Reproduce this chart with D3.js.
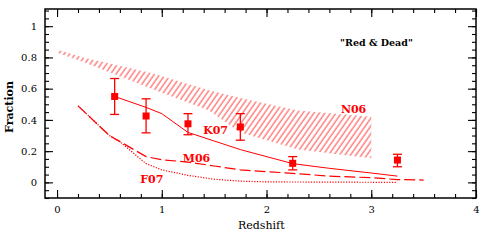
<!DOCTYPE html>
<html>
<head>
<meta charset="utf-8">
<script src="https://cdn.jsdelivr.net/npm/d3@7"></script>
<style>
  body { margin: 0; background: #fff; }
  text { font-family: "DejaVu Serif", serif; }
</style>
</head>
<body>
<div id="wrapper"></div>
<script>
// observed points (squares with error bars)
const pointZ = [0.55, 0.85, 1.25, 1.75, 2.25, 3.25]
const pointFrac = [0.55, 0.425, 0.375, 0.355, 0.122, 0.143]
const pointHi = [0.665, 0.535, 0.44, 0.44, 0.165, 0.18]
const pointLo = [0.435, 0.317, 0.305, 0.27, 0.08, 0.10]

// K07 model (solid)
const k07Z = [0.55, 0.85, 1.0, 1.25, 1.75, 2.25, 2.6, 3.0, 3.25]
const k07Frac = [0.55, 0.48, 0.44, 0.32, 0.21, 0.12, 0.09, 0.06, 0.04]

// M06 model (long dash)
const m06Z = [0.2, 0.5, 0.85, 1.0, 1.25, 1.5, 1.75, 2.25, 2.6, 3.0, 3.25, 3.5]
const m06Frac = [0.49, 0.30, 0.165, 0.145, 0.13, 0.105, 0.08, 0.058, 0.04, 0.03, 0.018, 0.015]

// F07 model (dotted)
const f07Z = [0.2, 0.5, 0.6, 0.85, 1.0, 1.25, 1.5, 1.75, 2.0, 2.5, 3.25]
const f07Frac = [0.49, 0.30, 0.26, 0.12, 0.08, 0.045, 0.02, 0.008, 0.003, 0.002, 0.0]

// N06 band (hatched)
const n06Z = [0, 0.25, 0.9, 1.45, 1.75, 2.3, 3.0]
const n06Top = [0.85, 0.80, 0.70, 0.59, 0.54, 0.46, 0.42]
const n06Bottom = [0.83, 0.77, 0.60, 0.46, 0.32, 0.21, 0.155]

const xMajor = [0, 1, 2, 3, 4]
const yMajor = [0, 0.2, 0.4, 0.6, 0.8, 1]

let dimensions = {
    width: 491,
    height: 243,
    margin: { top: 9, right: 15, bottom: 45, left: 45 },
}
dimensions.boundedWidth = dimensions.width - dimensions.margin.left - dimensions.margin.right
dimensions.boundedHeight = dimensions.height - dimensions.margin.top - dimensions.margin.bottom

const wrapper = d3.select("#wrapper")
    .append("svg")
    .attr("width", dimensions.width)
    .attr("height", dimensions.height)

const bounds = wrapper.append("g")
    .attr("transform", `translate(${dimensions.margin.left},${dimensions.margin.top})`)

const xScale = d3.scaleLinear()
    .domain([-0.115, 4])
    .range([0, dimensions.boundedWidth])

const yScale = d3.scaleLinear()
    .domain([-0.1, 1.11])
    .range([dimensions.boundedHeight, 0])

const red = "#ff0000"

// hatch pattern for the N06 band
const defs = wrapper.append("defs")
defs.append("pattern")
    .attr("id", "hatch")
    .attr("patternUnits", "userSpaceOnUse")
    .attr("width", 4.5)
    .attr("height", 4.5)
    .attr("patternTransform", "rotate(35)")
    .append("line")
    .attr("x1", 1).attr("y1", 0)
    .attr("x2", 1).attr("y2", 4.5)
    .attr("stroke", "#ff5555")
    .attr("stroke-width", 1.1)

const band = d3.area()
    .x((d, i) => xScale(n06Z[i]))
    .y0((d, i) => yScale(n06Bottom[i]))
    .y1((d, i) => yScale(n06Top[i]))

bounds.append("path")
    .attr("d", band(n06Z))
    .attr("fill", "url(#hatch)")

const lineFor = (zs, fs) => d3.line()
    .x((d, i) => xScale(zs[i]))
    .y((d, i) => yScale(fs[i]))(zs)

bounds.append("path")
    .attr("d", lineFor(k07Z, k07Frac))
    .attr("fill", "none")
    .attr("stroke", red)
    .attr("stroke-width", 1)

bounds.append("path")
    .attr("d", lineFor(m06Z, m06Frac))
    .attr("fill", "none")
    .attr("stroke", red)
    .attr("stroke-width", 1.2)
    .attr("stroke-dasharray", "11,4")

bounds.append("path")
    .attr("d", lineFor(f07Z, f07Frac))
    .attr("fill", "none")
    .attr("stroke", red)
    .attr("stroke-width", 1.2)
    .attr("stroke-dasharray", "1.2,1.5")

// error bars
const errs = bounds.append("g")
    .attr("stroke", red)
    .attr("stroke-width", 1.3)
pointZ.forEach((z, i) => {
    const x = xScale(z)
    errs.append("line")
        .attr("x1", x).attr("x2", x)
        .attr("y1", yScale(pointHi[i])).attr("y2", yScale(pointLo[i]))
    errs.append("line")
        .attr("x1", x - 4.5).attr("x2", x + 4.5)
        .attr("y1", yScale(pointHi[i])).attr("y2", yScale(pointHi[i]))
    errs.append("line")
        .attr("x1", x - 4.5).attr("x2", x + 4.5)
        .attr("y1", yScale(pointLo[i])).attr("y2", yScale(pointLo[i]))
})

bounds.selectAll(".pt")
    .data(pointZ)
    .join("rect")
    .attr("x", (d) => xScale(d) - 3.5)
    .attr("y", (d, i) => yScale(pointFrac[i]) - 3.5)
    .attr("width", 7)
    .attr("height", 7)
    .attr("fill", red)

// labels
const labels = [
    { t: "N06", z: 2.71, f: 0.445 },
    { t: "K07", z: 1.395, f: 0.31 },
    { t: "M06", z: 1.2, f: 0.13 },
    { t: "F07", z: 0.795, f: -0.005 },
]
bounds.selectAll(".lab")
    .data(labels)
    .join("text")
    .attr("x", (d) => xScale(d.z))
    .attr("y", (d) => yScale(d.f))
    .attr("fill", red)
    .attr("font-size", 11)
    .attr("font-weight", "bold")
    .text((d) => d.t)

bounds.append("text")
    .attr("x", xScale(3.05))
    .attr("y", yScale(0.875))
    .attr("text-anchor", "middle")
    .attr("font-size", 9.5)
    .attr("font-weight", "bold")
    .text("\"Red & Dead\"")

// axes: inward ticks on all four sides
const xMinor = d3.range(0, 4.01, 0.2).map((d) => +d.toFixed(2))
const yMinor = d3.range(-0.1, 1.11, 0.05).map((d) => +d.toFixed(2))

const axisStyle = (g) => {
    g.select(".domain").remove()
    g.selectAll("line").attr("stroke", "#000").attr("stroke-width", 1.1)
}

bounds.append("g")
    .attr("transform", `translate(0,${dimensions.boundedHeight})`)
    .call(d3.axisBottom(xScale).tickValues(xMinor).tickSize(-4).tickFormat(""))
    .call(axisStyle)
bounds.append("g")
    .attr("transform", `translate(0,${dimensions.boundedHeight})`)
    .call(d3.axisBottom(xScale).tickValues(xMajor).tickSize(-8).tickPadding(8).tickFormat(d3.format("d")))
    .call(axisStyle)
bounds.append("g")
    .call(d3.axisTop(xScale).tickValues(xMinor).tickSize(-4).tickFormat(""))
    .call(axisStyle)
bounds.append("g")
    .call(d3.axisTop(xScale).tickValues(xMajor).tickSize(-8).tickFormat(""))
    .call(axisStyle)

bounds.append("g")
    .call(d3.axisLeft(yScale).tickValues(yMinor).tickSize(-4).tickFormat(""))
    .call(axisStyle)
bounds.append("g")
    .call(d3.axisLeft(yScale).tickValues(yMajor).tickSize(-8).tickPadding(8).tickFormat((d) => d === 0 || d === 1 ? d3.format("d")(d) : d3.format(".1f")(d)))
    .call(axisStyle)
bounds.append("g")
    .attr("transform", `translate(${dimensions.boundedWidth},0)`)
    .call(d3.axisRight(yScale).tickValues(yMinor).tickSize(-4).tickFormat(""))
    .call(axisStyle)
bounds.append("g")
    .attr("transform", `translate(${dimensions.boundedWidth},0)`)
    .call(d3.axisRight(yScale).tickValues(yMajor).tickSize(-8).tickFormat(""))
    .call(axisStyle)

bounds.selectAll(".tick text")
    .attr("font-family", "DejaVu Serif")
    .attr("font-size", 10)
    .attr("fill", "#000")

// frame
bounds.append("rect")
    .attr("width", dimensions.boundedWidth)
    .attr("height", dimensions.boundedHeight)
    .attr("fill", "none")
    .attr("stroke", "#000")
    .attr("stroke-width", 1.5)

// axis titles
wrapper.append("text")
    .attr("x", dimensions.margin.left + xScale(1.95))
    .attr("y", 229)
    .attr("text-anchor", "middle")
    .attr("font-size", 11)
    .text("Redshift")

wrapper.append("text")
    .attr("transform", `translate(13,107) rotate(-90)`)
    .attr("text-anchor", "middle")
    .attr("font-size", 11)
    .attr("font-weight", "bold")
    .text("Fraction")
</script>
</body>
</html>
